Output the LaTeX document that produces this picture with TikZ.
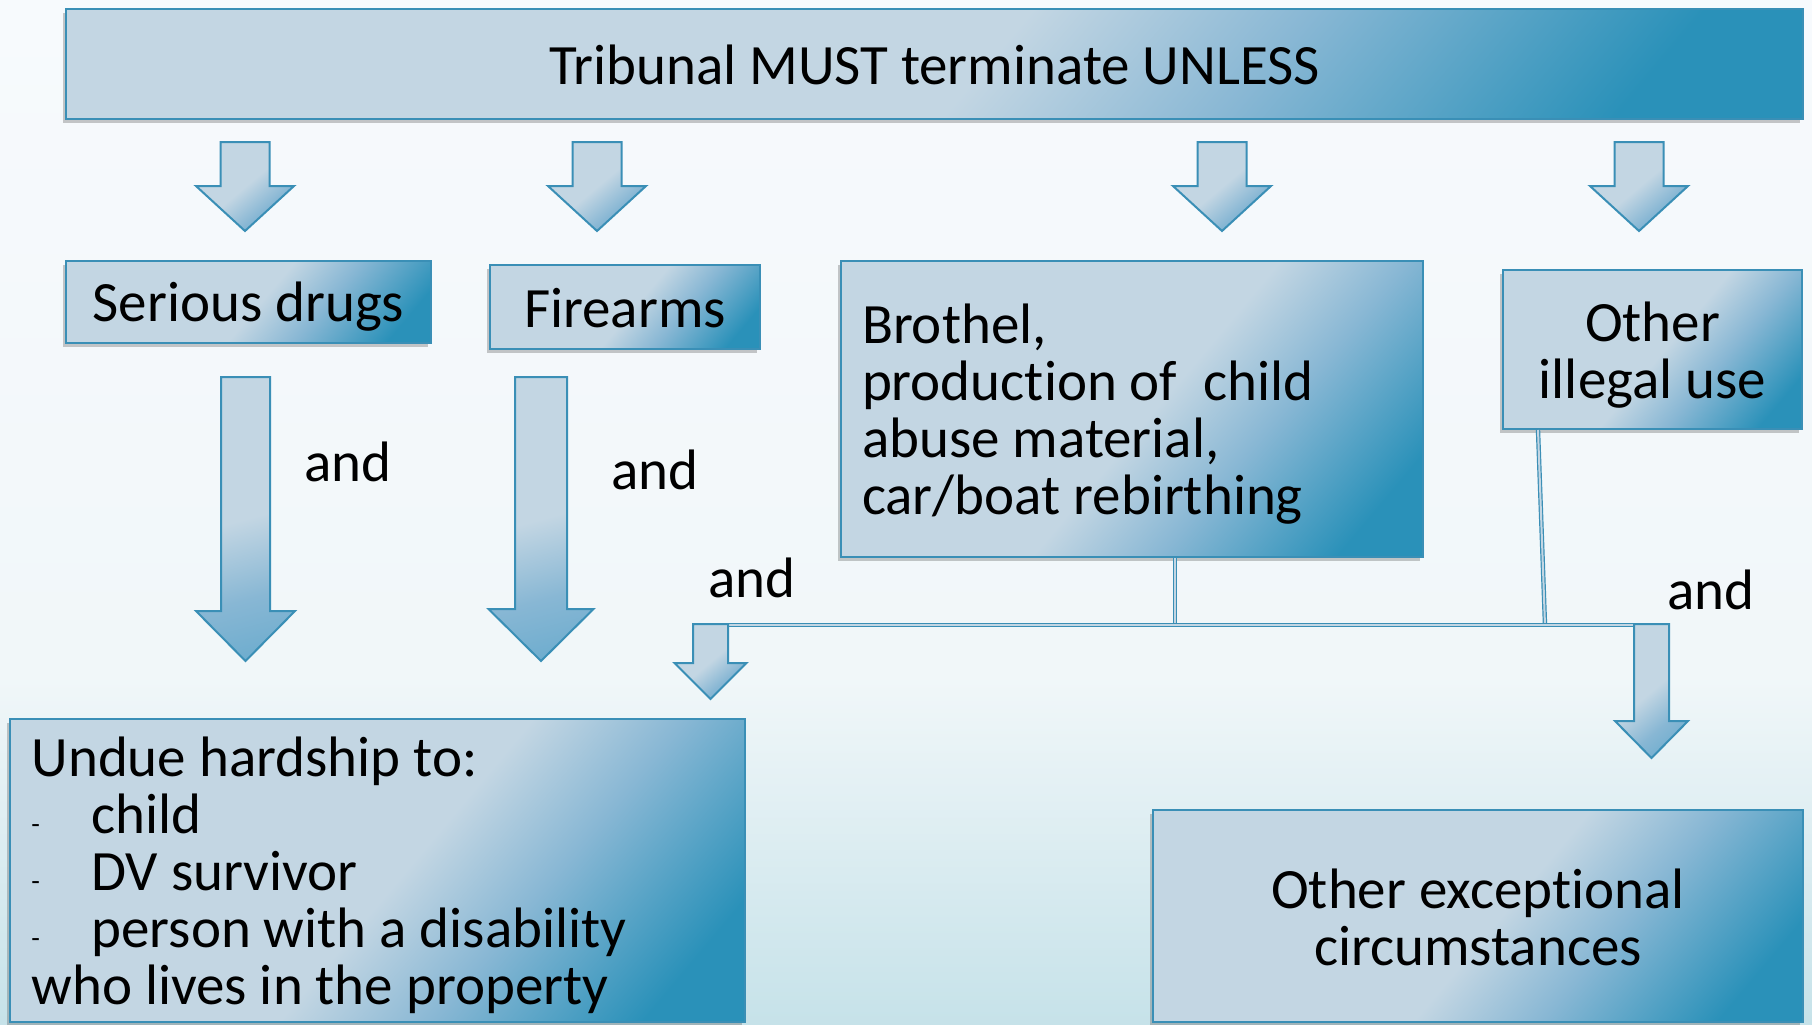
\documentclass[tikz,border=0pt]{standalone}
\usepackage{fontspec}
\setmainfont{Carlito}[Ligatures={NoCommon,NoRare}]
\usetikzlibrary{shadows}
\definecolor{bl}{HTML}{C3D6E3}
\definecolor{bm}{HTML}{88B7D4}
\definecolor{bd}{HTML}{2A91B9}
\definecolor{am}{HTML}{5FA7CB}
\definecolor{bdr}{HTML}{3A8FB6}
\definecolor{bgtop}{HTML}{F7FAFD}
\definecolor{bgmid}{HTML}{F1F7F9}
\definecolor{bgbot}{HTML}{C6E2E9}
\pgfdeclarehorizontalshading{boxsh}{100bp}{color(0bp)=(bl); color(52bp)=(bl); color(63bp)=(bm); color(78bp)=(bd); color(100bp)=(bd)}
\pgfdeclarehorizontalshading{arrsh}{100bp}{color(0bp)=(bl); color(50bp)=(bl); color(66bp)=(bm); color(85bp)=(am); color(100bp)=(am)}
\pgfdeclareverticalshading{bgsh}{100bp}{color(0bp)=(bgbot); color(25bp)=(bgbot); color(42bp)=(bgmid); color(75bp)=(bgtop); color(100bp)=(bgtop)}
\newcommand{\barrow}[7][]{\path[arrowsty,#1] ({#2-#6},#3) -- ({#2+#6},#3) -- ({#2+#6},#4) -- ({#2+#7},#4) -- (#2,#5) -- ({#2-#7},#4) -- ({#2-#6},#4) -- cycle;}
\newcommand{\bul}{\makebox[30pt][l]{\fontsize{14}{14}\selectfont -}}
\begin{document}
\begin{tikzpicture}[x=0.5pt,y=-0.5pt,
  txt/.style={font=\fontsize{28.5}{28.5}\selectfont, text=black},
  box/.style={draw=bdr, line width=1pt, shading=boxsh, shading angle=-40,
    drop shadow={shadow xshift=-1.5pt, shadow yshift=-2pt, opacity=0.3, fill=black!70},
    inner sep=0pt},
  tl/.style={txt, inner sep=0pt, align=center},
  tll/.style={txt, inner sep=0pt, align=flush left},
  arrowsty/.style={draw=bdr, line width=1pt, line join=miter, shading=arrsh, shading angle=-50},
  conn/.style={draw=bdr, line width=0.6pt, double=bl, double distance=1pt},
  andl/.style={txt, inner sep=0pt}]
\useasboundingbox (0,0) rectangle (1812,1024);
\fill[shading=bgsh] (0,0) rectangle (1812,1024);

% boxes
\node[box, minimum width=868.5pt, minimum height=55pt,
  label={[tl, yshift=-0.5pt]center:Tribunal MUST terminate UNLESS}] (top) at (934.5,64) {};
\node[box, minimum width=182.5pt, minimum height=41pt,
  label={[tl, yshift=-2.5pt]center:Serious drugs}] (drugs) at (248.5,302) {};
\node[box, minimum width=135pt, minimum height=42pt,
  label={[tl, yshift=-0.5pt]center:Firearms}] (fire) at (625,307) {};
\node[box, minimum width=291pt, minimum height=148pt,
  label={[tll, text width=270pt, yshift=-2.5pt]center:{Brothel,\\production of\ \ child\\abuse material,\\car/boat rebirthing}}] (broth) at (1132,409) {};
\node[box, minimum width=149.5pt, minimum height=79.5pt,
  label={[tl, yshift=-3pt]center:{Other\\illegal use}}] (illeg) at (1652.5,349.5) {};
\node[box, minimum width=367.5pt, minimum height=151.5pt,
  label={[tll, text width=346pt, yshift=-2.5pt]center:{Undue hardship to:\\\bul child\\\bul DV survivor\\\bul person with a disability\\who lives in the property}}] (undue) at (377.5,870.5) {};
\node[box, minimum width=325pt, minimum height=106pt,
  label={[tl, yshift=-0.5pt]center:{Other exceptional\\circumstances}}] (exc) at (1478,916) {};

% small arrows from the top box
\barrow{245}{142}{186}{231}{24.5}{49}
\barrow{597}{142}{186}{231}{24.5}{49}
\barrow{1222}{142}{186}{231}{24.5}{49}
\barrow{1639}{142}{186}{231}{24.5}{49}

% long arrows
\barrow[shading angle=-75]{245.5}{377}{611}{661}{24.5}{49.5}
\barrow[shading angle=-75]{541}{377}{609}{661}{26}{52.5}

% connectors
\coordinate (j0) at (693,625);
\coordinate (j1) at (1175,625);
\coordinate (j2) at (1545,625);
\coordinate (j3) at (1662,625);
\draw[conn] (broth.south -| j1) -- (j1);
\draw[conn] ([xshift=-3.5pt]illeg.south -| j2) -- (j2);
\draw[conn] (j0) -- (j3);

% arrows off the bar
\barrow{710.5}{624}{663}{699}{17.5}{36}
\barrow{1651.5}{624}{721}{758}{17.5}{36.5}

% labels
\node[andl] (a1) at (348,462) {and};
\node[andl] (a2) at (655,470) {and};
\node[andl] (a3) at (752,578) {and};
\node[andl] (a4) at (1711,590) {and};
\end{tikzpicture}
\end{document}
